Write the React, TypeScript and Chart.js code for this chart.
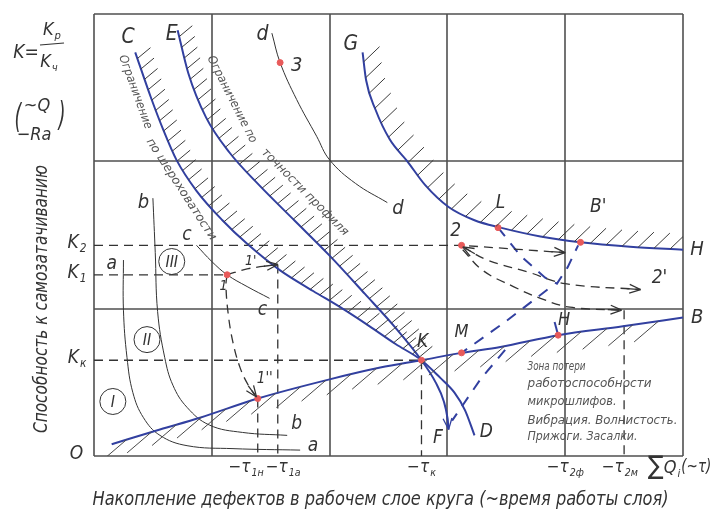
import React, { useEffect, useRef } from "react";
import { Chart, registerables } from "chart.js";
Chart.register(...registerables);

type P = { x: number; y: number };

// ---------- grid / ticks ----------
const gridX = [0, 1, 2, 3, 4, 5];
const gridY = [0, 1, 2, 3];
const yTickValues = [1.43, 1.23, 0.65, 0];
const yTickLabels = [["K", "2"], ["K", "1"], ["K", "к"], ["O", ""]];
const xTickValues = [1.39, 1.56, 2.78, 4.0, 4.48, 5.0];
const xTickLabels = [["−τ", "1н"], ["−τ", "1а"], ["−τ", "к"], ["−τ", "2ф"], ["−τ", "2м"], ["Q", "i"]];

// ---------- blue boundary curves ----------
const curveC: P[] = [
  { x: 0.35, y: 2.74 }, { x: 0.48, y: 2.44 }, { x: 0.59, y: 2.21 }, { x: 0.70, y: 2.01 },
  { x: 0.87, y: 1.80 }, { x: 1.09, y: 1.60 }, { x: 1.30, y: 1.44 }, { x: 1.58, y: 1.26 },
  { x: 1.86, y: 1.12 }, { x: 2.09, y: 1.01 }, { x: 2.34, y: 0.88 }, { x: 2.56, y: 0.76 },
  { x: 2.78, y: 0.65 }, { x: 2.94, y: 0.53 }, { x: 3.06, y: 0.43 }, { x: 3.15, y: 0.31 },
  { x: 3.23, y: 0.14 },
];
const curveE: P[] = [
  { x: 0.71, y: 2.89 }, { x: 0.80, y: 2.60 }, { x: 0.95, y: 2.30 }, { x: 1.15, y: 2.06 },
  { x: 1.40, y: 1.84 }, { x: 1.70, y: 1.60 }, { x: 2.00, y: 1.36 }, { x: 2.30, y: 1.10 },
  { x: 2.56, y: 0.87 }, { x: 2.78, y: 0.65 }, { x: 2.90, y: 0.50 }, { x: 2.97, y: 0.37 },
  { x: 3.00, y: 0.26 }, { x: 3.01, y: 0.18 },
];
const curveGH: P[] = [
  { x: 2.28, y: 2.74 }, { x: 2.31, y: 2.55 }, { x: 2.39, y: 2.35 }, { x: 2.51, y: 2.15 },
  { x: 2.66, y: 2.00 }, { x: 2.81, y: 1.84 }, { x: 3.01, y: 1.69 }, { x: 3.23, y: 1.60 },
  { x: 3.45, y: 1.55 }, { x: 3.79, y: 1.49 }, { x: 4.13, y: 1.45 }, { x: 4.55, y: 1.42 },
  { x: 5.00, y: 1.40 },
];
const curveKB: P[] = [
  { x: 0.15, y: 0.08 }, { x: 0.56, y: 0.18 }, { x: 0.90, y: 0.26 }, { x: 1.39, y: 0.39 },
  { x: 2.00, y: 0.52 }, { x: 2.43, y: 0.60 }, { x: 2.78, y: 0.65 }, { x: 3.12, y: 0.70 },
  { x: 3.45, y: 0.74 }, { x: 3.94, y: 0.82 }, { x: 4.49, y: 0.88 }, { x: 5.00, y: 0.94 },
];

// ---------- thin black curves ----------
const curveA: P[] = [
  { x: 0.25, y: 1.33 }, { x: 0.25, y: 0.99 }, { x: 0.28, y: 0.67 }, { x: 0.33, y: 0.43 },
  { x: 0.42, y: 0.26 }, { x: 0.56, y: 0.14 }, { x: 0.79, y: 0.07 }, { x: 1.18, y: 0.05 },
  { x: 1.75, y: 0.04 },
];
const curveB: P[] = [
  { x: 0.50, y: 1.75 }, { x: 0.52, y: 1.38 }, { x: 0.54, y: 0.98 }, { x: 0.60, y: 0.67 },
  { x: 0.67, y: 0.48 }, { x: 0.79, y: 0.33 }, { x: 0.98, y: 0.21 }, { x: 1.26, y: 0.16 },
  { x: 1.64, y: 0.14 },
];
const curveSmallC: P[] = [
  { x: 0.87, y: 1.43 }, { x: 1.00, y: 1.32 }, { x: 1.13, y: 1.23 }, { x: 1.30, y: 1.15 },
  { x: 1.49, y: 1.07 },
];
const curveD: P[] = [
  { x: 1.51, y: 2.87 }, { x: 1.58, y: 2.67 }, { x: 1.72, y: 2.42 }, { x: 1.89, y: 2.17 },
  { x: 2.00, y: 2.01 }, { x: 2.22, y: 1.85 }, { x: 2.49, y: 1.72 },
];

// ---------- dashed construction lines ----------
const dashK2: P[] = [{ x: 0, y: 1.43 }, { x: 3.12, y: 1.43 }, { x: 4.0, y: 1.38 }];
const dashK1: P[] = [{ x: 0, y: 1.23 }, { x: 1.13, y: 1.23 }];
const dashKx: P[] = [{ x: 0, y: 0.65 }, { x: 2.78, y: 0.65 }];
const dashTx: P[] = [{ x: 2.78, y: 0.65 }, { x: 2.78, y: 0 }];
const dashT1n: P[] = [{ x: 1.39, y: 0.39 }, { x: 1.39, y: 0 }];
const dashT1a: P[] = [{ x: 1.56, y: 1.30 }, { x: 1.56, y: 0 }];
const dashT2m: P[] = [{ x: 4.50, y: 0.99 }, { x: 4.50, y: 0 }];
const arrow1to1p: P[] = [{ x: 1.13, y: 1.23 }, { x: 1.30, y: 1.27 }, { x: 1.56, y: 1.30 }];
const arrow1to1pp: P[] = [
  { x: 1.13, y: 1.23 }, { x: 1.12, y: 1.16 }, { x: 1.14, y: 0.96 }, { x: 1.18, y: 0.77 },
  { x: 1.24, y: 0.60 }, { x: 1.31, y: 0.48 }, { x: 1.38, y: 0.40 },
];
const arrow2to2p: P[] = [
  { x: 3.13, y: 1.42 }, { x: 3.34, y: 1.33 }, { x: 3.68, y: 1.25 }, { x: 4.00, y: 1.17 },
  { x: 4.64, y: 1.13 },
];
const arrow2toT2m: P[] = [
  { x: 3.13, y: 1.40 }, { x: 3.30, y: 1.26 }, { x: 3.56, y: 1.15 }, { x: 3.79, y: 1.07 },
  { x: 4.04, y: 1.01 }, { x: 4.48, y: 0.99 },
];
const blueDashLB: P[] = [
  { x: 3.43, y: 1.55 }, { x: 3.62, y: 1.36 }, { x: 3.83, y: 1.21 }, { x: 3.93, y: 1.17 },
  { x: 4.02, y: 1.28 }, { x: 4.11, y: 1.43 },
];
const blueDashM: P[] = [{ x: 3.85, y: 1.13 }, { x: 3.49, y: 0.91 }, { x: 3.12, y: 0.70 }];
const blueDashLow: P[] = [{ x: 3.49, y: 0.72 }, { x: 3.28, y: 0.52 }, { x: 3.04, y: 0.24 }];
const blueTickH: P[] = [{ x: 3.91, y: 0.91 }, { x: 3.94, y: 0.82 }];

// ---------- marked points ----------
const redPoints: P[] = [
  { x: 1.58, y: 2.67 }, { x: 1.13, y: 1.23 }, { x: 1.39, y: 0.39 }, { x: 2.78, y: 0.65 },
  { x: 3.12, y: 0.70 }, { x: 3.12, y: 1.43 }, { x: 3.43, y: 1.55 }, { x: 4.13, y: 1.45 },
  { x: 3.94, y: 0.82 },
];

// ---------- annotation texts ----------
const letterTexts = ["C", "E", "d", "3", "G", "d", "L", "B'", "H", "2", "2'", "B", "H", "M", "K", "F", "D", "b", "a", "c", "c", "1", "1'", "1''", "b", "a"];
const letterX = [0.29, 0.66, 1.43, 1.72, 2.18, 2.58, 3.45, 4.28, 5.12, 3.07, 4.80, 5.12, 3.99, 3.12, 2.79, 2.92, 3.33, 1.72, 1.86, 0.79, 1.43, 1.10, 1.33, 1.45, 0.42, 0.15];
const letterY = [2.84, 2.86, 2.86, 2.65, 2.79, 1.68, 1.72, 1.69, 1.40, 1.53, 1.21, 0.94, 0.92, 0.84, 0.77, 0.12, 0.16, 0.22, 0.07, 1.50, 0.99, 1.15, 1.32, 0.52, 1.72, 1.30];
const letterSizes = [21, 21, 21, 20, 21, 20, 19, 19, 20, 19, 19, 20, 18, 18, 19, 19, 19, 19, 19, 19, 19, 14, 14, 15, 20, 19];

const zoneTexts = ["Зона потери", "работоспособности", "микрошлифов.", "Вибрация. Волнистость.", "Прижоги. Засалки."];
const zoneX = 3.68;
const zoneY = [0.61, 0.49, 0.37, 0.24, 0.13];
const zoneWidths = [58, 124, 89, 150, 110];

const circleTexts = ["III", "II", "I"];
const circleX = [0.66, 0.45, 0.16];
const circleY = [1.32, 0.79, 0.37];

const rotTexts = ["Ограничение", "по шероховатости", "Ограничение по", "точности профиля"];
const rotX = [0.35, 0.74, 1.17, 1.79];
const rotY = [2.47, 1.81, 2.42, 1.79];
const rotAngles = [70, 57, 63, 45];
const rotWidths = [78, 119, 96, 118];

const yTitle = "Способность к самозатачиванию";
const xTitle = "Накопление дефектов в рабочем слое круга (~время работы слоя)";

// ---------- styles ----------
const FONT = "'Liberation Sans Narrow','DejaVu Sans Condensed','Liberation Sans',sans-serif";
const BLUE = "#3240a0";
const INK = "#333333";
const GRID = "#505050";
const RED = "#e85a5a";

function fnt(size: number) {
  return `italic ${size}px ${FONT}`;
}

function text(ctx: CanvasRenderingContext2D, t: string, x: number, y: number, size: number, o: any = {}) {
  ctx.save();
  ctx.translate(x, y);
  if (o.angle) ctx.rotate((o.angle * Math.PI) / 180);
  ctx.font = fnt(size);
  ctx.fillStyle = o.color || INK;
  ctx.textBaseline = "middle";
  ctx.textAlign = o.align || "center";
  if (o.width) {
    const w = ctx.measureText(t).width;
    ctx.scale(o.width / w, 1);
  }
  ctx.fillText(t, 0, 0);
  ctx.restore();
}

function subText(ctx: CanvasRenderingContext2D, main: string, sub: string, x: number, y: number, size: number, align: string) {
  ctx.save();
  ctx.font = fnt(size);
  const w1 = ctx.measureText(main).width;
  ctx.font = fnt(size * 0.62);
  const w2 = ctx.measureText(sub).width;
  const total = w1 + w2 + 1;
  let left = x - total / 2;
  if (align === "left") left = x;
  if (align === "right") left = x - total;
  ctx.fillStyle = INK;
  ctx.textBaseline = "middle";
  ctx.textAlign = "left";
  ctx.font = fnt(size);
  ctx.fillText(main, left, y);
  ctx.font = fnt(size * 0.62);
  ctx.fillText(sub, left + w1 + 1, y + size * 0.32);
  ctx.restore();
  return left + total;
}

function samplePath(els: any[]) {
  const out: { x: number; y: number; seg: number }[] = [];
  for (let i = 0; i < els.length - 1; i++) {
    const a = els[i], b = els[i + 1];
    const c1x = a.cp2x ?? a.x, c1y = a.cp2y ?? a.y;
    const c2x = b.cp1x ?? b.x, c2y = b.cp1y ?? b.y;
    for (let k = 0; k < 20; k++) {
      const t = k / 20, u = 1 - t;
      out.push({
        x: u * u * u * a.x + 3 * u * u * t * c1x + 3 * u * t * t * c2x + t * t * t * b.x,
        y: u * u * u * a.y + 3 * u * u * t * c1y + 3 * u * t * t * c2y + t * t * t * b.y,
        seg: i,
      });
    }
  }
  const l = els[els.length - 1];
  out.push({ x: l.x, y: l.y, seg: els.length - 1 });
  return out;
}

function arrowHead(ctx: CanvasRenderingContext2D, path: any[], atEnd: boolean, color: string) {
  const n = path.length;
  const tip = atEnd ? path[n - 1] : path[0];
  let back = tip;
  if (atEnd) {
    for (let k = n - 2; k >= 0; k--) { back = path[k]; if (Math.hypot(tip.x - back.x, tip.y - back.y) > 10) break; }
  } else {
    for (let k = 1; k < n; k++) { back = path[k]; if (Math.hypot(tip.x - back.x, tip.y - back.y) > 10) break; }
  }
  const ang = Math.atan2(tip.y - back.y, tip.x - back.x);
  ctx.save();
  ctx.setLineDash([]);
  ctx.strokeStyle = color;
  ctx.lineWidth = 1.3;
  ctx.beginPath();
  for (const s of [-0.38, 0.38]) {
    ctx.moveTo(tip.x, tip.y);
    ctx.lineTo(tip.x - 12 * Math.cos(ang + s), tip.y - 12 * Math.sin(ang + s));
  }
  ctx.moveTo(tip.x - 3 * Math.cos(ang), tip.y - 3 * Math.sin(ang));
  ctx.lineTo(tip.x - 14 * Math.cos(ang), tip.y - 14 * Math.sin(ang));
  ctx.stroke();
  ctx.restore();
}

const diagramPlugin = {
  id: "diagram",
  beforeDatasetsDraw(chart: any) {
    const { ctx, chartArea: a, scales } = chart;
    const xs = scales.x, ys = scales.y;
    ctx.save();
    ctx.strokeStyle = GRID;
    ctx.lineWidth = 1.6;
    ctx.beginPath();
    gridX.forEach((v) => {
      const px = Math.round(xs.getPixelForValue(v));
      ctx.moveTo(px, a.top);
      ctx.lineTo(px, a.bottom);
    });
    gridY.forEach((v) => {
      const py = Math.round(ys.getPixelForValue(v));
      ctx.moveTo(a.left, py);
      ctx.lineTo(a.right, py);
    });
    ctx.stroke();
    ctx.restore();
  },
  afterDatasetsDraw(chart: any) {
    const { ctx, chartArea: a, scales } = chart;
    const xs = scales.x, ys = scales.y;
    const X = (v: number) => xs.getPixelForValue(v);
    const Y = (v: number) => ys.getPixelForValue(v);

    // hatching and arrows
    chart.data.datasets.forEach((ds: any, i: number) => {
      if (!ds.hatch && !ds.arrowEnd && !ds.arrowStart) return;
      const meta = chart.getDatasetMeta(i);
      const path = samplePath(meta.data);
      if (ds.hatch) {
        const h = ds.hatch;
        ctx.save();
        ctx.beginPath();
        ctx.rect(a.left, a.top, a.right - a.left, a.bottom - a.top);
        ctx.clip();
        ctx.strokeStyle = h.color;
        ctx.lineWidth = 1;
        ctx.beginPath();
        let next = h.gap * 0.6, trav = 0;
        for (let k = 1; k < path.length; k++) {
          const p0 = path[k - 1], p1 = path[k];
          if (h.to !== undefined && p0.seg >= h.to) break;
          const L = Math.hypot(p1.x - p0.x, p1.y - p0.y);
          while (trav + L >= next) {
            const t = (next - trav) / L;
            const px = p0.x + t * (p1.x - p0.x), py = p0.y + t * (p1.y - p0.y);
            ctx.moveTo(px, py);
            ctx.lineTo(px + h.dir[0] * h.len, py + h.dir[1] * h.len);
            next += h.gap;
          }
          trav += L;
        }
        ctx.stroke();
        ctx.restore();
      }
      if (ds.arrowEnd) arrowHead(ctx, path, true, ds.borderColor);
      if (ds.arrowStart) arrowHead(ctx, path, false, ds.borderColor);
    });

    // circled roman numerals
    ctx.save();
    ctx.strokeStyle = INK;
    ctx.lineWidth = 1;
    circleTexts.forEach((t, i) => {
      const cx = X(circleX[i]), cy = Y(circleY[i]);
      ctx.beginPath();
      ctx.arc(cx, cy, 13, 0, Math.PI * 2);
      ctx.stroke();
      text(ctx, t, cx, cy + 1, 16);
    });
    ctx.restore();

    // point labels
    letterTexts.forEach((t, i) => text(ctx, t, X(letterX[i]), Y(letterY[i]), letterSizes[i]));

    // rotated boundary captions
    rotTexts.forEach((t, i) =>
      text(ctx, t, X(rotX[i]), Y(rotY[i]), 12, { angle: rotAngles[i], width: rotWidths[i], color: "#555" })
    );

    // zone caption
    zoneTexts.forEach((t, i) =>
      text(ctx, t, X(zoneX), Y(zoneY[i]), 13, { align: "left", width: zoneWidths[i], color: "#555" })
    );

    // y tick labels
    yTickValues.forEach((v, i) => {
      const [m, s] = yTickLabels[i];
      subText(ctx, m, s, a.left - 17, Y(v) - 2, 19, "center");
    });

    // x tick labels
    const xAlign = ["right", "left", "center", "center", "center", "left"];
    const xShift = [6, -12, 0, 0, -2, -35];
    xTickValues.forEach((v, i) => {
      const [m, s] = xTickLabels[i];
      const px = X(v) + xShift[i];
      const py = a.bottom + 12;
      if (i === xTickValues.length - 1) {
        ctx.save();
        ctx.font = `26px ${FONT}`;
        ctx.fillStyle = INK;
        ctx.textBaseline = "middle";
        ctx.textAlign = "left";
        ctx.fillText("∑", px, py - 1);
        const w = ctx.measureText("∑").width;
        ctx.restore();
        const end = subText(ctx, m, s, px + w, py, 18, "left");
        text(ctx, "(~τ)", end + 1, py, 17, { align: "left", width: 30 });
      } else {
        subText(ctx, m, s, px, py, 17, xAlign[i]);
      }
    });

    // axis titles
    text(ctx, xTitle, (a.left + a.right) / 2 - 8, a.bottom + 44, 19, { width: 576 });
    text(ctx, yTitle, 42, a.top + (a.bottom - a.top) * 0.645, 19, { angle: -90, width: 268 });

    // top-left formula
    text(ctx, "K=", 26, 53, 19);
    subText(ctx, "K", "р", 52, 30, 18, "center");
    ctx.save();
    ctx.strokeStyle = INK;
    ctx.lineWidth = 1.2;
    ctx.beginPath();
    ctx.moveTo(40, 45);
    ctx.lineTo(64, 43);
    ctx.stroke();
    ctx.restore();
    subText(ctx, "K", "ч", 49, 62, 18, "center");
    text(ctx, "(", 18, 119, 34, { width: 7 });
    text(ctx, "~Q", 37, 106, 18);
    text(ctx, "−Ra", 34, 135, 18);
    text(ctx, ")", 62, 117, 34, { width: 7 });
  },
};

function ln(data: P[], color: string, width: number, extra: any = {}) {
  return {
    type: "line",
    data,
    borderColor: color,
    backgroundColor: color,
    borderWidth: width,
    pointRadius: 0,
    tension: 0.4,
    fill: false,
    clip: false,
    ...extra,
  };
}

export default function App() {
  const ref = useRef<HTMLCanvasElement>(null);
  useEffect(() => {
    const canvas = ref.current!;
    const dashBlack = { borderDash: [9, 6], tension: 0 };
    const dashBlue = { borderDash: [11, 9], tension: 0 };
    const mono = { cubicInterpolationMode: "monotone" };
    const chart = new Chart(canvas, {
      type: "line",
      data: {
        datasets: [
          {
            type: "scatter",
            data: redPoints,
            pointRadius: 3,
            pointBackgroundColor: RED,
            pointBorderColor: RED,
            showLine: false,
            clip: false,
          } as any,
          ln(curveC, BLUE, 2, { ...mono, hatch: { dir: [0.77, -0.64], len: 17, gap: 11, to: 12, color: "#3a3a3a" } }),
          ln(curveE, BLUE, 2, { ...mono, hatch: { dir: [0.77, -0.64], len: 17, gap: 11, to: 9, color: "#3a3a3a" }, arrowEnd: true }),
          ln(curveGH, BLUE, 2, { ...mono, hatch: { dir: [0.72, -0.69], len: 22, gap: 16, color: "#3a3a3a" } }),
          ln(curveKB, BLUE, 2, { ...mono, hatch: { dir: [-0.76, 0.65], len: 32, gap: 26, color: "#4a4a4a" } }),
          ln(curveA, INK, 1),
          ln(curveB, INK, 1),
          ln(curveSmallC, INK, 1),
          ln(curveD, INK, 1),
          ln(dashK2, INK, 1.3, { ...dashBlack, arrowEnd: true }),
          ln(dashK1, INK, 1.3, dashBlack),
          ln(dashKx, INK, 1.3, dashBlack),
          ln(dashTx, INK, 1.3, dashBlack),
          ln(dashT1n, INK, 1.3, dashBlack),
          ln(dashT1a, INK, 1.3, dashBlack),
          ln(dashT2m, INK, 1.3, dashBlack),
          ln(arrow1to1p, INK, 1.3, { borderDash: [9, 6], arrowEnd: true }),
          ln(arrow1to1pp, INK, 1.3, { borderDash: [9, 6], arrowEnd: true }),
          ln(arrow2to2p, INK, 1.3, { borderDash: [9, 6], arrowEnd: true, arrowStart: true }),
          ln(arrow2toT2m, INK, 1.3, { borderDash: [9, 6], arrowEnd: true }),
          ln(blueDashLB, BLUE, 2, dashBlue),
          ln(blueDashM, BLUE, 2, dashBlue),
          ln(blueDashLow, BLUE, 2, dashBlue),
          ln(blueTickH, BLUE, 2, { tension: 0 }),
        ],
      } as any,
      options: {
        responsive: false,
        maintainAspectRatio: false,
        animation: false,
        devicePixelRatio: 1,
        layout: { padding: { left: 94, right: 43, top: 14, bottom: 69 } },
        scales: {
          x: { type: "linear", min: 0, max: 5, display: false },
          y: { type: "linear", min: 0, max: 3, display: false },
        },
        plugins: { legend: { display: false }, tooltip: { enabled: false } },
        events: [],
      } as any,
      plugins: [diagramPlugin],
    });
    return () => chart.destroy();
  }, []);
  return (
    <div style={{ position: "absolute", left: 0, top: 0, width: 726, height: 525, background: "#fff" }}>
      <canvas ref={ref} width={726} height={525} style={{ width: 726, height: 525, display: "block" }} />
    </div>
  );
}
